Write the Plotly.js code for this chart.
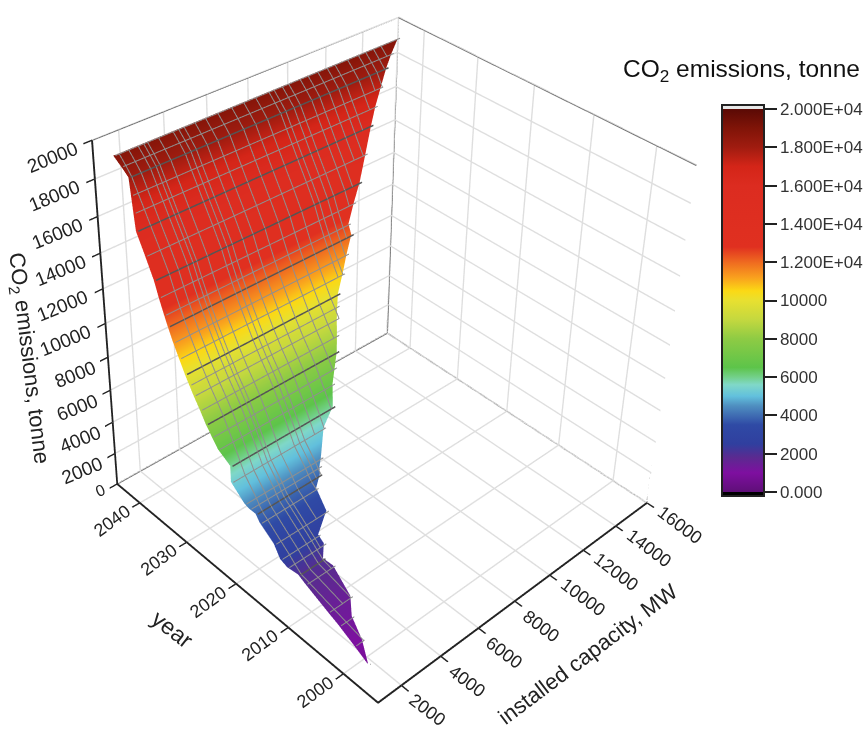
<!DOCTYPE html>
<html><head><meta charset="utf-8">
<style>html,body{margin:0;padding:0;width:868px;height:729px;overflow:hidden;background:#fff}
#plot{position:absolute;left:-245px;top:-524px;width:1400px;height:1408px}</style>
<script src="https://cdn.plot.ly/plotly-3.0.1.min.js"></script>
</head><body><div id="plot"></div>
<script>
// surface rows
const rowYear=[1997.8,2000.6,2003.7,2005.9,2010.4,2011.9,2013.1,2014.1,2015.7,2018.2,2019.2,2019.8,2020.3,2022.4,2023.3,2024.6,2025.5,2026.4,2027.5,2028.7,2029.5,2030.3,2031.4,2032.5,2033.5,2034.2,2035.2,2036.1,2037.7,2039.4,2040.5,2041.6,2042.7,2043.8,2045];
const rowEmission=[800,1040,1300,1480,1880,2000,2330,2636,3060,3740,4000,4270,4540,5400,6000,6880,7440,8000,8570,9140,9570,10000,10660,11330,12000,12490,13250,14000,15000,16000,16670,17330,18000,18400,18800];
const rowCapLow=[1393,1501,1609,1663,1772,1826,1598,1523,1636,1600,1650,1500,1400,1300,1500,1250,1200,1152,1160,1166,1170,1177,1188,1200,1216,1231,1250,1270,1290,1313,1480,1650,1818,1760,1700];
const rowCapHigh=[1415,1901,2258,2800,3157,3063,3423,3408,4250,4400,4850,5000,5200,5900,6620,6950,7300,7650,7950,8264,8500,8751,9292,9800,10320,10352,10900,11456,12200,12970,13500,14100,14702,15300,16000];
const meshCaps=[1870,2290,2710,2960,3130,3630,4300,4560,4810,5320,5820,6410,7080,7670,8260,8930,9190,9610,9940,10530,10950,11460,11960,12380,13060,13650,14060,14490,14910,15410];
const columnShare=[0,0.125,0.25,0.375,0.5,0.625,0.75,0.875,1];
const capTicks=[2000,4000,6000,8000,10000,12000,14000,16000];
const yearTicks=[2000,2010,2020,2030,2040];
const zTicks=[0,2000,4000,6000,8000,10000,12000,14000,16000,18000,20000];
const barTicks=[0,2000,4000,6000,8000,10000,12000,14000,16000,18000,20000];
const barLabels=['0.000','2000','4000','6000','8000','10000','1.200E+04','1.400E+04','1.600E+04','1.800E+04','2.000E+04'];
const colorValues=[-210,-1,0,1000,1800,2500,3500,4500,5000,5600,6000,6500,8000,9000,10000,10500,11200,12000,12800,16000,17000,18000,19000,20000,20001,20210];
const colorHexes=['#000000','#000000','#5f0f78','#7e0fa0','#5b2a90','#303f9f','#2f4aa5','#4f8fc0','#62c0dd','#80d8c8','#73d08a','#5dc44a','#8ecb44','#c4d83f','#e8e030','#fbd915','#f9a01e','#ef6a20','#e03020','#dc2c20','#d42518','#a01c10','#801408','#5a0a05','#e8e8e8','#e8e8e8'];

const W=1400,H=1408,L=-245,T=-524;
const px=v=>(v-L)/W, py=v=>1-(v-T)/H;
const capRange=[850,16000],yearRange=[1994,2045],zRange=[0,20000];

const X=rowYear.map((_,i)=>columnShare.map(s=>rowCapLow[i]+s*(rowCapHigh[i]-rowCapLow[i])));
const Y=rowYear.map(y=>columnShare.map(()=>y));
const Z=rowEmission.map(z=>columnShare.map(()=>z));
const span=colorValues[colorValues.length-1]-colorValues[0];
const scale=colorValues.map((v,i)=>[(v-colorValues[0])/span,colorHexes[i]]);

const font='"Liberation Sans",Arial,sans-serif';
const tickFont={family:font,size:18,color:'#222'};
const sceneNotes=[];
capTicks.forEach(v=>sceneNotes.push({x:v,y:yearRange[0],z:0,text:String(v),showarrow:false,textangle:37,font:tickFont,xshift:v>=10000?33:26,yshift:v>=10000?-22:-25}));
yearTicks.forEach(v=>sceneNotes.push({x:capRange[0],y:v,z:0,text:String(v),showarrow:false,textangle:-36,font:tickFont,xshift:-28,yshift:-18}));
zTicks.forEach(v=>sceneNotes.push({x:capRange[0],y:yearRange[1]-0.01,z:v,text:String(v),showarrow:false,textangle:-22,font:{family:font,size:v?19:16,color:'#222'},xshift:v>=10000?-40:(v?-33:-17),yshift:v?-17:-7}));

const axis=(range,ticks)=>({range:range,tickvals:ticks,title:{text:''},showticklabels:false,showbackground:false,showgrid:true,gridcolor:'#dedede',gridwidth:3,zeroline:false,showspikes:false,showline:true,linecolor:'#222',linewidth:4,ticks:'outside',ticklen:8,tickwidth:3,tickcolor:'#222',mirror:false});

// grey frame of the box
const [x0,x1]=capRange,[y0,y1]=yearRange,[z0,z1]=zRange;
const edges=[[[x0,y1,z1],[x1,y1,z1]],[[x1,y1,z1],[x1,y0,z1]],[[x1,y0,z1],[x1,y0,z0]],[[x1,y1,z0],[x1,y1,z1]],[[x0,y1,z0],[x1,y1,z0]],[[x1,y1,z0],[x1,y0,z0]]];
const polyTrace=(lines,color,width)=>{const t={type:'scatter3d',mode:'lines',hoverinfo:'skip',showlegend:false,line:{color:color,width:width},x:[],y:[],z:[]};
 lines.forEach(l=>{l.forEach(p=>{t.x.push(p[0]);t.y.push(p[1]);t.z.push(p[2]);});const e=l[l.length-1];t.x.push(e[0],null);t.y.push(e[1],null);t.z.push(e[2],null);});return t;};

// mesh drawn just in front of the sheet
const frontYear=0.45,frontZ=80;
const rowLine=i=>[[rowCapLow[i],rowYear[i]-frontYear,rowEmission[i]+frontZ],[rowCapHigh[i],rowYear[i]-frontYear,rowEmission[i]+frontZ]];
const minorRows=[],majorRows=[];
rowYear.forEach((_,i)=>{(rowEmission[i]%2000===0?majorRows:minorRows).push(rowLine(i));});
const capLines=[];
meshCaps.forEach(c=>{let cur=[];rowYear.forEach((y,i)=>{if(c>=rowCapLow[i]&&c<=rowCapHigh[i]){cur.push([c,y-frontYear,rowEmission[i]+frontZ]);}else{if(cur.length>1)capLines.push(cur);cur=[];}});if(cur.length>1)capLines.push(cur);});

const data=[polyTrace(edges,'#6e6e6e',3),
 {type:'surface',x:X,y:Y,z:Z,colorscale:scale,cmin:colorValues[0],cmax:colorValues[colorValues.length-1],
 hoverinfo:'skip',lighting:{ambient:1,diffuse:0,specular:0,roughness:1,fresnel:0},
 contours:{x:{highlight:false},y:{highlight:false},z:{highlight:false}},
 colorbar:{x:px(722),xanchor:'left',xpad:0,y:py(300.5),yanchor:'middle',ypad:0,lenmode:'pixels',len:391,thicknessmode:'pixels',thickness:42,
   tickvals:barTicks,ticktext:barLabels,ticks:'outside',ticklen:12,tickwidth:2,tickcolor:'#222',tickfont:{family:font,size:17,color:'#333'},outlinecolor:'#222',outlinewidth:2,borderwidth:0}},
 polyTrace(capLines,'#8f8f8f',2),polyTrace(minorRows,'#8f8f8f',2),polyTrace(majorRows,'#555555',3)];

const note=(x,y,text,angle,size,color)=>({xref:'paper',yref:'paper',x:px(x),y:py(y),xanchor:'center',yanchor:'middle',text:text,textangle:angle,showarrow:false,font:{family:font,size:size,color:color}});
const layout={width:W,height:H,margin:{l:0,r:0,t:0,b:0},paper_bgcolor:'#fff',showlegend:false,
 scene:{domain:{x:[0,1],y:[0,1]},aspectmode:'manual',aspectratio:{x:1,y:1.0167,z:1.071},
  camera:{projection:{type:'perspective'},eye:{x:-2.4304,y:-2.4318,z:2.6055},center:{x:0.0696,y:-0.131,z:0.4931},up:{x:0.3482,y:0.3999,z:0.8477}},
  xaxis:axis(capRange,capTicks),yaxis:axis(yearRange,yearTicks),zaxis:axis(zRange,zTicks),annotations:sceneNotes,hovermode:false,dragmode:false},
 annotations:[
  note(741,70,'CO<sub>2</sub> emissions, tonne',0,24.5,'#111'),
  note(172,629,'year',38,23,'#222'),
  note(587,654,'installed capacity, MW',-37,22,'#222'),
  note(28,358,'CO<sub>2</sub> emissions, tonne',83,22,'#222')
 ]};
Plotly.newPlot('plot',data,layout,{displayModeBar:false});
</script></body></html>
